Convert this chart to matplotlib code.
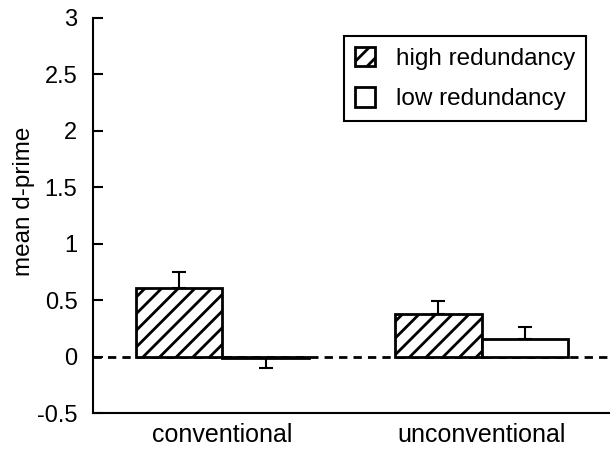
import matplotlib
matplotlib.use("Agg")
import matplotlib.pyplot as plt
import numpy as np

categories = ["conventional", "unconventional"]
high_vals = [0.61, 0.38]
high_err = [0.14, 0.11]
low_vals = [-0.015, 0.16]
low_err = [0.09, 0.10]

plt.rcParams["font.family"] = ["Liberation Sans", "DejaVu Sans"]
plt.rcParams["hatch.linewidth"] = 2.0


def main():
    """draws the d-prime bar chart"""
    fig = plt.figure(figsize=(6.10, 4.49), dpi=100)
    ax = fig.add_axes([0.152, 0.08, 0.85, 0.88])
    x = np.arange(len(categories))
    w = 1 / 3

    ax.axhline(0, color="black", lw=2, ls=(0, (3, 2.2)), zorder=1)
    hb = ax.bar(x - w / 2, high_vals, w, color="white", edgecolor="black",
                hatch="//", lw=2, zorder=2, label="high redundancy")
    lb = ax.bar(x + w / 2, low_vals, w, color="white", edgecolor="black",
                lw=2, zorder=2, label="low redundancy")

    # error bars only in the direction of the bar
    for xs, vals, errs in ((x - w / 2, high_vals, high_err),
                           (x + w / 2, low_vals, low_err)):
        for xi, v, e in zip(xs, vals, errs):
            lower = [[e if v < 0 else 0], [0 if v < 0 else e]]
            ax.errorbar(xi, v, yerr=lower, color="black", lw=1.5,
                        capsize=5, capthick=1.5, zorder=3)

    ax.set_xlim(-0.5, 1.5)
    ax.set_ylim(-0.5, 3)
    ax.set_yticks(np.arange(-0.5, 3.01, 0.5))
    ax.set_yticklabels(["-0.5", "0", "0.5", "1", "1.5", "2", "2.5", "3"])
    ax.set_xticks(x)
    ax.set_xticklabels(categories)
    ax.tick_params(axis="y", direction="in", length=7, width=1.5,
                   labelsize=17, pad=11)
    ax.tick_params(axis="x", length=0, labelsize=18, pad=7)
    ax.spines["top"].set_visible(False)
    ax.spines["right"].set_visible(False)
    ax.spines["left"].set_linewidth(1.5)
    ax.spines["bottom"].set_linewidth(1.5)
    ax.set_ylabel("mean d-prime", fontsize=17.5)
    ax.yaxis.set_label_coords(-0.112, 0.537)

    leg = ax.legend(handles=[hb, lb], loc="upper right",
                    bbox_to_anchor=(0.952, 0.954), fontsize=17.5,
                    fancybox=False, edgecolor="black", framealpha=1,
                    handlelength=0.85, handleheight=0.85, handletextpad=0.85,
                    borderpad=0.45, labelspacing=0.7, borderaxespad=0)
    leg.get_frame().set_linewidth(1.5)

    fig.savefig("out.png", dpi=100)


if __name__ == "__main__":
    main()
